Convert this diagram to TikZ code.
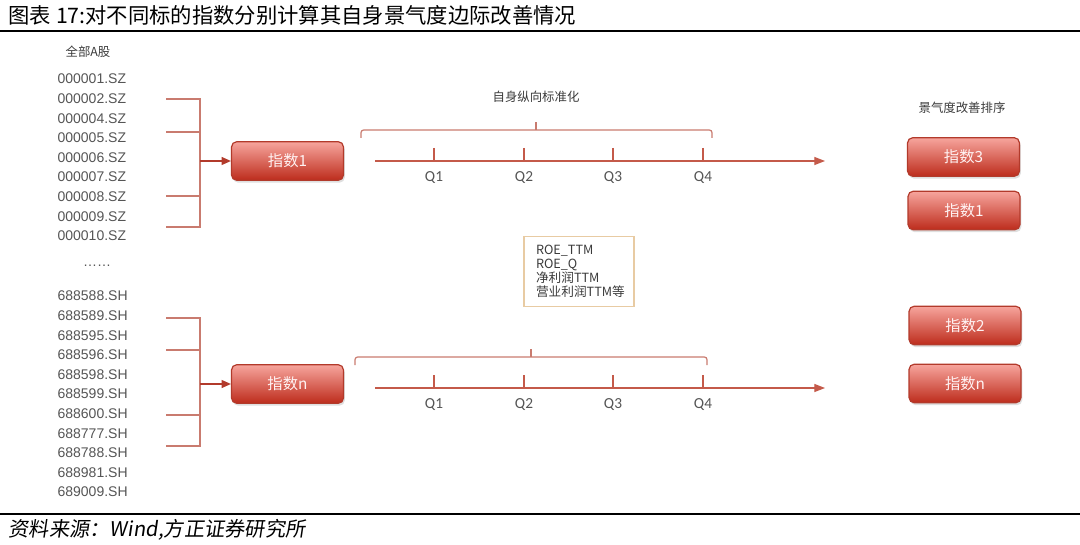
\documentclass[tikz,border=0pt]{standalone}
\usepackage{fontspec}
\setmainfont{Noto Sans CJK SC}
\newfontfamily\codefont{Liberation Sans}
\newfontfamily\qfont{Carlito}
\newfontfamily\footfont[FakeSlant=0.15]{Noto Sans CJK SC}
\usetikzlibrary{arrows.meta, positioning, shadows}
\definecolor{cline}{HTML}{C97B6F}
\definecolor{caxis}{HTML}{C45A4A}
\definecolor{ctop}{HTML}{F7A59D}
\definecolor{cbot}{HTML}{BD2C1C}
\definecolor{cedge}{HTML}{B23A2B}
\definecolor{ctext}{HTML}{555555}
\definecolor{cframe}{HTML}{E8CBA3}
\tikzset{
  every picture/.style={line width=0.9pt},
  idxbox/.style={draw=cedge, top color=ctop, bottom color=cbot, rounded corners=4pt,
    minimum width=84pt, minimum height=29pt, text=white!95!red,
    font=\fontsize{11.5}{13}\selectfont,
    drop shadow={shadow xshift=1pt, shadow yshift=-1.8pt, opacity=0.25}},
  code/.style={font=\codefont\fontsize{10.5}{12}\selectfont, text=ctext, anchor=west, inner sep=0pt},
  caption/.style={font=\fontsize{9.3}{11}\selectfont, text=ctext!70!black},
  qlabel/.style={font=\qfont\fontsize{11.5}{13}\selectfont, text=ctext},
  feed/.style={draw=cline, line width=0.9pt},
  feedarrow/.style={feed, -{Triangle[length=7pt, width=6pt]}, color=cedge},
  axis/.style={draw=caxis, line width=0.9pt, -{Triangle[length=8pt, width=6pt]}},
}
\begin{document}
\begin{tikzpicture}[x=0.75pt, y={(0pt,-0.75pt)}]
  \useasboundingbox (0,0) rectangle (1080,545);
  % title and rules
  \node[anchor=west, inner sep=0pt, font=\fontsize{16}{18}\selectfont] (title) at (8,15) {图表 17:对不同标的指数分别计算其自身景气度边际改善情况};
  \draw[line width=1.3pt] (0,31) -- (1080,31);
  \draw[line width=1.3pt] (0,514) -- (1080,514);
  \node[anchor=west, inner sep=0pt, font=\footfont\fontsize{15.2}{17}\selectfont] (source) at (8,530) {资料来源：Wind,方正证券研究所};

  % stock lists
  \node[caption] (allA) at (88,52) {全部A股};
  \foreach \c [count=\i] in {000001,000002,000004,000005,000006,000007,000008,000009,000010}
    \node[code] (sz\i) at (57,{79+19.6*(\i-1)}) {\c.SZ};
  \node[code, anchor=center] (dots) at (97,266) {……};
  \foreach \c [count=\i] in {688588,688589,688595,688596,688598,688599,688600,688777,688788,688981,689009}
    \node[code] (sh\i) at (57,{296+19.6*(\i-1)}) {\c.SH};

  % index boxes
  \node[idxbox] (idx1) at (287.5,161) {指数1};
  \node[idxbox] (idxn) at (287.5,384) {指数n};

  % brackets into the index boxes
  \draw[feed] (166,99) -- (200,99) -- (200,227) -- (166,227);
  \draw[feed] (166,132) -- (200,132);
  \draw[feed] (166,196) -- (200,196);
  \coordinate (join1) at (200,161);
  \draw[feedarrow] (join1) -- (idx1.west);
  \draw[feed] (166,318) -- (200,318) -- (200,446) -- (166,446);
  \draw[feed] (166,350) -- (200,350);
  \draw[feed] (166,415) -- (200,415);
  \coordinate (joinn) at (200,384);
  \draw[feedarrow] (joinn) -- (idxn.west);

  % quarter timelines
  \foreach \r/\y/\bl/\br/\bm in {a/161/361/712/536, b/388/355/707/531} {
    \coordinate (\r-start) at (375,\y);
    \coordinate (\r-end) at (825,\y);
    \draw[axis] (\r-start) -- (\r-end);
    \foreach \x [count=\q] in {434,524,613,703} {
      \draw[caxis] (\x,\y-13) -- (\x,\y);
      \node[qlabel] (\r-q\q) at (\x,\y+17) {Q\q};
    }
    \draw[feed, rounded corners=2pt] (\bl,\y-23) -- (\bl,\y-31) -- (\br,\y-31) -- (\br,\y-23);
    \draw[feed] (\bm,\y-31) -- (\bm,\y-39);
  }
  \node[caption] (norm) at (536,97) {自身纵向标准化};

  % indicator list
  \node[draw=cframe, line width=0.8pt, minimum width=82.5pt, minimum height=52pt,
        text width=64.5pt, inner xsep=9pt, align=left, text=ctext!70!black,
        font=\fontsize{9.5}{10.5}\selectfont] (metrics) at (579,271.5)
        {ROE\_TTM\\ROE\_Q\\净利润TTM\\营业利润TTM等};

  % ranking
  \node[caption] (rank) at (962,108) {景气度改善排序};
  \node[idxbox] (rank3) at (963.5,157) {指数3};
  \node[idxbox] (rank1) at (964,210.5) {指数1};
  \node[idxbox] (rank2) at (965,325.5) {指数2};
  \node[idxbox] (rankn) at (965,383.5) {指数n};
\end{tikzpicture}
\end{document}
